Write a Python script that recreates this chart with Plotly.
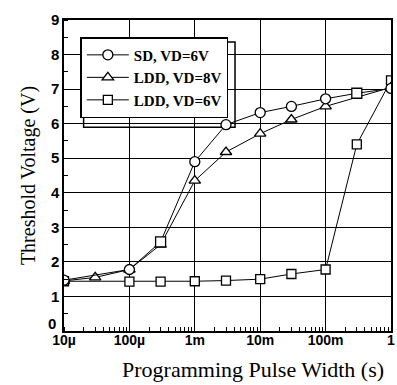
import plotly.graph_objects as go

# Data
sd_x = [1e-5, 1e-4, 3e-4, 1e-3, 3e-3, 1e-2, 3e-2, 1e-1, 3e-1, 1.0]
sd_y = [1.47, 1.78, 2.58, 4.9, 5.97, 6.32, 6.5, 6.72, 6.88, 7.02]
sd_sym = ["circle", "circle", "square", "circle", "circle", "circle", "circle", "circle", "square", "circle"]

ldd8_x = [1e-5, 3e-5, 1e-4, 3e-4, 1e-3, 3e-3, 1e-2, 3e-2, 1e-1, 1.0]
ldd8_y = [1.45, 1.55, 1.78, 2.5, 4.35, 5.18, 5.71, 6.12, 6.5, 7.05]

ldd6_x = [1e-5, 1e-4, 3e-4, 1e-3, 3e-3, 1e-2, 3e-2, 1e-1, 3e-1, 1.0]
ldd6_y = [1.44, 1.43, 1.43, 1.44, 1.46, 1.5, 1.65, 1.78, 5.4, 7.25]

x_tickvals = [1e-5, 1e-4, 1e-3, 1e-2, 1e-1, 1.0]
x_ticktext = ["10µ", "100µ", "1m", "10m", "100m", "1"]
y_tickvals = [0, 1, 2, 3, 4, 5, 6, 7, 8, 9]
y_ticktext = ["", "1", "2", "3", "4", "5", "6", "7", "8", "9"]
y_zero_label = "0"

series_names = ["SD, VD=6V", "LDD, VD=8V", "LDD, VD=6V"]
x_title = "Programming Pulse Width (s)"
y_title = "Threshold Voltage (V)"

mk = dict(size=10, color="white", line=dict(color="black", width=1.3))
ln = dict(color="black", width=1)

fig = go.Figure()
fig.add_trace(go.Scatter(x=ldd6_x, y=ldd6_y, mode="lines+markers", name=series_names[2],
                         line=ln, marker=dict(mk, symbol="square", size=9)))
fig.add_trace(go.Scatter(x=ldd8_x, y=ldd8_y, mode="lines+markers", name=series_names[1],
                         line=ln, marker=dict(mk, symbol="triangle-up")))
fig.add_trace(go.Scatter(x=sd_x, y=sd_y, mode="lines+markers", name=series_names[0],
                         line=ln, marker=dict(mk, symbol=sd_sym)))

sans = "Liberation Sans"
serif = "Liberation Serif"

fig.update_layout(
    width=397, height=385,
    margin=dict(l=64, r=2, t=20, b=54),
    paper_bgcolor="white", plot_bgcolor="white",
    showlegend=True,
    legend=dict(
        x=0.05, y=0.945, xanchor="left", yanchor="top",
        bgcolor="white", bordercolor="black", borderwidth=1.5,
        font=dict(family=serif, size=15, color="black", weight="bold"),
        traceorder="reversed",
        itemwidth=42,
    ),
    xaxis=dict(
        type="log", range=[-5, 0],
        tickvals=x_tickvals, ticktext=x_ticktext,
        showgrid=True, gridcolor="black", gridwidth=1,
        showline=True, linecolor="black", linewidth=1.5, mirror=True,
        ticks="", tickfont=dict(family=sans, size=14, color="black", weight="bold"),
        ticklabeloverflow="allow", ticklabelstandoff=-5,
        minor=dict(ticks="inside", ticklen=4, tickcolor="black", dtick="D1", showgrid=False),
        zeroline=False,
    ),
    yaxis=dict(
        range=[0, 9], tickvals=y_tickvals, ticktext=y_ticktext,
        showgrid=True, gridcolor="black", gridwidth=1,
        showline=True, linecolor="black", linewidth=1.5, mirror=True,
        ticks="", tickfont=dict(family=sans, size=15, color="black", weight="bold"),
        minor=dict(ticks="inside", ticklen=4, tickcolor="black", dtick=0.5, showgrid=False),
        title=dict(text=y_title, font=dict(family=serif, size=20, color="#000000"), standoff=10),
        zeroline=False,
    ),
)

# raised "0" label, as in the reference
fig.add_annotation(text=y_zero_label, xref="paper", yref="y", x=0, y=y_tickvals[0],
                   xanchor="right", yanchor="middle", xshift=-6, yshift=8, showarrow=False,
                   font=dict(family=sans, size=15, color="black", weight="bold"))

fig.add_annotation(text=x_title, xref="paper", yref="paper", x=0.578, y=-0.125,
                   xanchor="center", yanchor="middle", showarrow=False,
                   font=dict(family=serif, size=22, color="black"))

# legend shadow
fig.add_shape(type="rect", xref="paper", yref="paper", x0=0.060, x1=0.523, y0=0.655, y1=0.929,
              line=dict(color="black", width=1.5), fillcolor="white", layer="below")

fig.write_html("out.html")
